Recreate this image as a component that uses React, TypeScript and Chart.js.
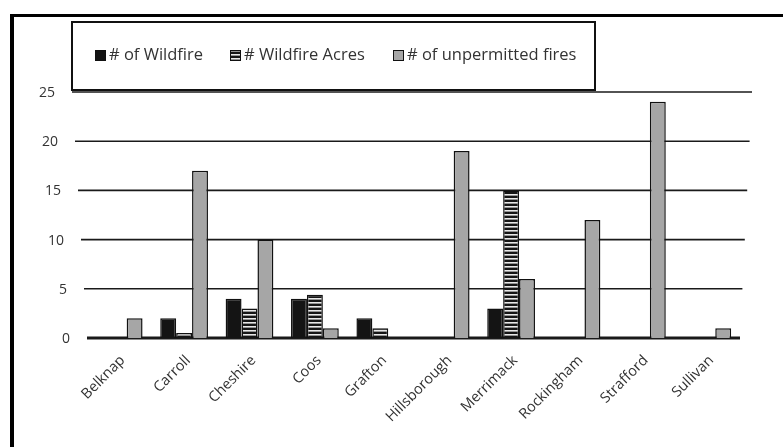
import React, { useEffect, useRef } from "react";
import { Chart, registerables } from "chart.js";

Chart.register(...registerables);

const categories = ["Belknap", "Carroll", "Cheshire", "Coos", "Grafton", "Hillsborough", "Merrimack", "Rockingham", "Strafford", "Sullivan"];
const wildfires = [0, 2, 4, 4, 2, 0, 3, 0, 0, 0];
const wildfireAcres = [0, 0.5, 3, 4.4, 1, 0, 15, 0, 0, 0];
const unpermitted = [2, 17, 10, 1, 0, 19, 6, 12, 24, 1];
const seriesLabels = ["# of Wildfire", "# Wildfire Acres", "# of unpermitted fires"];
const yTicks = [0, 5, 10, 15, 20, 25];

const FONT = "'Open Sans', 'DejaVu Sans', sans-serif";

function makeStripe(): CanvasPattern | string {
  const c = document.createElement("canvas");
  c.width = 4;
  c.height = 4;
  const g = c.getContext("2d");
  if (!g) return "#222";
  g.fillStyle = "#151515";
  g.fillRect(0, 0, 4, 4);
  g.fillStyle = "#e8e8e8";
  g.fillRect(0, 2, 4, 1.6);
  const p = g.createPattern(c, "repeat");
  return p || "#222";
}

export default function App() {
  const ref = useRef<HTMLCanvasElement | null>(null);
  useEffect(() => {
    if (!ref.current) return;
    const stripe = makeStripe();
    const fills: any[] = ["#141414", stripe, "#a6a6a6"];

    const framePlugin = {
      id: "frame",
      beforeDraw(chart: any) {
        const ctx = chart.ctx;
        ctx.save();
        ctx.fillStyle = "#ffffff";
        ctx.fillRect(0, 0, chart.width, chart.height);
        ctx.fillStyle = "#000";
        ctx.fillRect(10, 14, 4, chart.height - 14);
        ctx.fillRect(10, 14, chart.width - 10, 3);
        ctx.restore();
      },
      beforeDatasetsDraw(chart: any) {
        const ctx = chart.ctx;
        const y = chart.scales.y;
        const maxV = y.max;
        ctx.save();
        ctx.font = "14px " + FONT;
        ctx.textAlign = "right";
        ctx.textBaseline = "middle";
        yTicks.forEach((v) => {
          const py = y.getPixelForValue(v);
          const f = v / maxV;
          const left = 87 - 15 * f;
          const right = 740 + 12 * f;
          ctx.strokeStyle = "#1a1a1a";
          ctx.lineWidth = v === 0 ? 3 : 1.6;
          ctx.beginPath();
          ctx.moveTo(left, py);
          ctx.lineTo(right, py);
          ctx.stroke();
          ctx.fillStyle = "#333";
          ctx.fillText(String(v), 70 - 15 * f, py + 1);
        });
        ctx.restore();
      },
      afterDraw(chart: any) {
        const ctx = chart.ctx;
        ctx.save();
        ctx.fillStyle = "#fff";
        ctx.fillRect(73, 23, 521, 66);
        ctx.strokeStyle = "#111";
        ctx.lineWidth = 2;
        ctx.strokeRect(72, 22, 523, 68);
        const items = [
          { sx: 95, tx: 109 },
          { sx: 230, tx: 244 },
          { sx: 393, tx: 407 },
        ];
        ctx.font = "16.5px " + FONT;
        ctx.textBaseline = "middle";
        chart.data.datasets.forEach((ds: any, i: number) => {
          const it = items[i];
          ctx.fillStyle = ds.backgroundColor;
          ctx.fillRect(it.sx, 50, 10, 10);
          ctx.strokeStyle = "#111";
          ctx.lineWidth = 1;
          ctx.strokeRect(it.sx + 0.5, 50.5, 10, 10);
          ctx.fillStyle = "#333";
          ctx.fillText(ds.label, it.tx, 55);
        });
        ctx.restore();
      },
    };

    const chart = new Chart(ref.current, {
      type: "bar",
      data: {
        labels: categories,
        datasets: [wildfires, wildfireAcres, unpermitted].map((d, i) => ({
          label: seriesLabels[i],
          data: d,
          backgroundColor: fills[i],
          borderColor: "#111",
          borderWidth: 1.5,
          categoryPercentage: 0.73,
          barPercentage: 1.0,
        })),
      },
      options: {
        animation: false,
        responsive: false,
        maintainAspectRatio: false,
        layout: { padding: { top: 92, right: 43, left: 0, bottom: 0 } },
        plugins: { legend: { display: false }, tooltip: { enabled: false } },
        scales: {
          x: {
            grid: { display: false },
            border: { display: false },
            ticks: {
              minRotation: 45,
              maxRotation: 45,
              color: "#333",
              font: { family: FONT, size: 14.5 },
              padding: 6,
              labelOffset: 4,
            },
            afterFit(scale: any) {
              scale.height = 109;
            },
          },
          y: {
            min: 0,
            max: 25,
            afterBuildTicks(scale: any) {
              scale.ticks = yTicks.map((v) => ({ value: v }));
            },
            grid: { display: false },
            border: { display: false },
            ticks: { display: false },
            afterFit(scale: any) {
              scale.width = 86;
            },
          },
        },
      },
      plugins: [framePlugin],
    });
    return () => chart.destroy();
  }, []);

  return (
    <div style={{ position: "fixed", left: 0, top: 0, width: 783, height: 447, background: "#fff" }}>
      <canvas ref={ref} width={783} height={447} style={{ width: 783, height: 447, display: "block" }} />
    </div>
  );
}
